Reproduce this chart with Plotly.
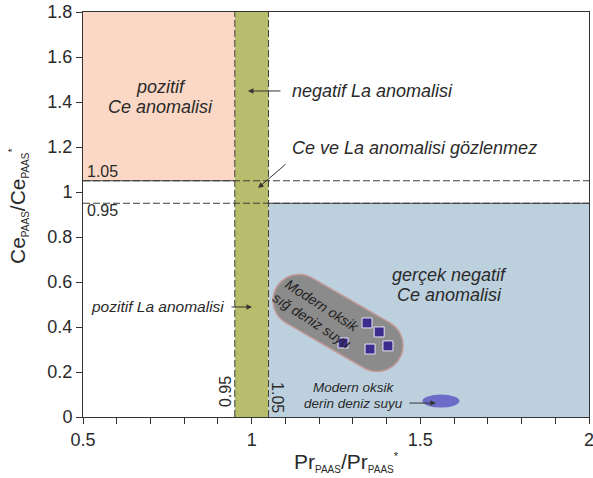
import numpy as np
import plotly.graph_objects as go

# ---------------- data ----------------
pr_samples = [1.271, 1.342, 1.378, 1.404, 1.351]
ce_samples = [0.329, 0.418, 0.378, 0.316, 0.302]

x_ticks = [0.5, 1, 1.5, 2]
x_tick_labels = ["0.5", "1", "1.5", "2"]
y_ticks = [0, 0.2, 0.4, 0.6, 0.8, 1.0, 1.2, 1.4, 1.6, 1.8]
y_tick_labels = ["0", "0.2", "0.4", "0.6", "0.8", "1", "1.2", "1.4", "1.6", "1.8"]

lower_thr = 0.95
upper_thr = 1.05
x_range = [0.5, 2.0]
y_range = [0.0, 1.8]

# ---------------- layout geometry ----------------
W, H = 593, 478
ML, MR, MT, MB = 83, 4, 12, 61
pw, ph = W - ML - MR, H - MT - MB
sx = pw / (x_range[1] - x_range[0])   # px per x unit
sy = ph / (y_range[1] - y_range[0])   # px per y unit

FONT = "Liberation Sans, Arial, sans-serif"
TXT = "#2a2a2a"

fig = go.Figure()

fig.add_trace(go.Scatter(
    x=pr_samples, y=ce_samples, mode="markers",
    marker=dict(symbol="square", size=10, color="#3b2c8e",
                line=dict(color="#e6e6f4", width=1)),
    showlegend=False, hoverinfo="skip"))

shapes = []
shapes.append(dict(type="rect", xref="x", yref="y", x0=x_range[0], x1=lower_thr,
                   y0=upper_thr, y1=y_range[1], fillcolor="#fad8c5", line_width=0, layer="below"))
shapes.append(dict(type="rect", xref="x", yref="y", x0=lower_thr, x1=upper_thr,
                   y0=y_range[0], y1=y_range[1], fillcolor="#b7bd6c", line_width=0, layer="below"))
shapes.append(dict(type="rect", xref="x", yref="y", x0=upper_thr, x1=x_range[1],
                   y0=y_range[0], y1=lower_thr, fillcolor="#bdd0de", line_width=0, layer="below"))

# capsule blob (modern oxic shallow seawater field)
blob_cx, blob_cy = 1.256, 0.418
blob_angle = np.deg2rad(30)
blob_half = 45
blob_r = 26
u = np.array([np.cos(blob_angle), np.sin(blob_angle)])
pts = []
for sgn in (1, -1):
    ec = sgn * blob_half * u
    base = np.arctan2(u[1], u[0]) if sgn == 1 else np.arctan2(-u[1], -u[0])
    for t in np.linspace(-np.pi / 2, np.pi / 2, 30):
        a = base + t
        pts.append((ec[0] + blob_r * np.cos(a), ec[1] + blob_r * np.sin(a)))
path = ""
for i, (dx, dy) in enumerate(pts):
    xd = blob_cx + dx / sx
    yd = blob_cy - dy / sy
    path += ("M" if i == 0 else "L") + f"{xd:.5f},{yd:.5f} "
path += "Z"
shapes.append(dict(type="path", xref="x", yref="y", path=path, fillcolor="#8b8b8b",
                   line=dict(color="#c49a98", width=1.5), layer="below"))

# deep seawater field
shapes.append(dict(type="circle", xref="x", yref="y", x0=1.506, x1=1.616, y0=0.042, y1=0.100,
                   fillcolor="#6c6cc8", line_width=0, layer="below"))

dash = dict(color="#3f3f3f", width=1, dash="7px,3px")
solid = dict(color="#3a3a3a", width=1)
shapes.append(dict(type="line", xref="x", yref="y", x0=x_range[0], x1=x_range[1],
                   y0=upper_thr, y1=upper_thr, line=dash, layer="above"))
shapes.append(dict(type="line", xref="x", yref="y", x0=x_range[0], x1=x_range[1],
                   y0=lower_thr, y1=lower_thr, line=dash, layer="above"))
shapes.append(dict(type="line", xref="x", yref="y", x0=lower_thr, x1=lower_thr,
                   y0=y_range[0], y1=y_range[1], line=dash, layer="above"))
shapes.append(dict(type="line", xref="x", yref="y", x0=upper_thr, x1=upper_thr,
                   y0=y_range[0], y1=y_range[1], line=dash, layer="above"))
shapes.append(dict(type="line", xref="x", yref="y", x0=x_range[0], x1=lower_thr,
                   y0=upper_thr, y1=upper_thr, line=solid, layer="above"))
shapes.append(dict(type="line", xref="x", yref="y", x0=upper_thr, x1=x_range[1],
                   y0=lower_thr, y1=lower_thr, line=solid, layer="above"))

ann = []
def txt(x, y, s, size=18, xa="center", angle=0, color=TXT, ref=("x", "y")):
    ann.append(dict(x=x, y=y, xref=ref[0], yref=ref[1], text=s, showarrow=False,
                    xanchor=xa, yanchor="middle", textangle=angle,
                    font=dict(family=FONT, size=size, color=color)))

def arrow(x, y, ax, ay):
    ann.append(dict(x=x, y=y, xref="x", yref="y", text="", showarrow=True,
                    ax=ax, ay=ay, arrowhead=2, arrowsize=1.1, arrowwidth=1,
                    arrowcolor="#333333", standoff=0, startstandoff=0))

txt(0.731, 1.467, "<i>pozitif</i>")
txt(0.731, 1.378, "<i>Ce anomalisi</i>")
txt(1.114, 1.449, "<i>negatif La anomalisi</i>", xa="left")
txt(1.114, 1.196, "<i>Ce ve La anomalisi gözlenmez</i>", xa="left")
txt(0.924, 0.489, "<i>pozitif La anomalisi</i>", size=15.5, xa="right")
txt(1.585, 0.631, "<i>gerçek negatif</i>")
txt(1.585, 0.542, "<i>Ce anomalisi</i>")
txt(1.194, 0.462, "<i>Modern oksik<br>sığ deniz suyu</i>", size=14, angle=33, color="#222222")
txt(1.303, 0.133, "<i>Modern oksik</i>", size=13.5)
txt(1.303, 0.062, "<i>derin deniz suyu</i>", size=13.5)
txt(0.506, 1.089, "1.05", size=16, xa="left")
txt(0.506, 0.916, "0.95", size=16, xa="left")
txt(0.921, 0.111, "0.95", size=16, angle=-90)
txt(1.078, 0.084, "1.05", size=16, angle=90)

arrow(0.989, 1.449, 34, 0)
arrow(1.019, 1.018, 29, -25)
arrow(1.001, 0.489, -22, 0)
arrow(1.546, 0.062, -28, 0)

SUB = '<sub><span style="font-size:10px">PAAS</span></sub>'
SUP = '<sup><span style="font-size:11px">*</span></sup>'
txt((346 - ML) / pw, (MT + ph - 462) / ph, 'Pr' + SUB + '/Pr' + SUB + SUP,
    size=21, ref=("paper", "paper"))
txt((19 - ML) / pw, (MT + ph - 206) / ph, 'Ce' + SUB + '/Ce' + SUB + SUP,
    size=21, angle=-90, ref=("paper", "paper"))

fig.update_layout(
    width=W, height=H, autosize=False,
    margin=dict(l=ML, r=MR, t=MT, b=MB, autoexpand=False),
    paper_bgcolor="white", plot_bgcolor="white",
    shapes=shapes, annotations=ann, showlegend=False,
    font=dict(family=FONT, color=TXT),
    xaxis=dict(range=x_range, tickvals=x_ticks, ticktext=x_tick_labels, automargin=False,
               ticks="outside", ticklen=6, tickcolor="#333", showline=True, linecolor="#333",
               linewidth=1, mirror=True, showgrid=False, zeroline=False,
               tickfont=dict(size=18, color=TXT), ticklabeloverflow="allow",
               minor=dict(dtick=0.1, ticks="outside", ticklen=6, tickcolor="#333", showgrid=False)),
    yaxis=dict(range=y_range, tickvals=y_ticks, ticktext=y_tick_labels, automargin=False,
               ticks="outside", ticklen=6, tickcolor="#333", showline=True, linecolor="#333",
               linewidth=1, mirror=True, showgrid=False, zeroline=False,
               tickfont=dict(size=18, color=TXT)),
)

fig.write_html("out.html", config={"displayModeBar": False},
               post_script="document.body.style.margin='0';document.body.style.overflow='hidden';")
